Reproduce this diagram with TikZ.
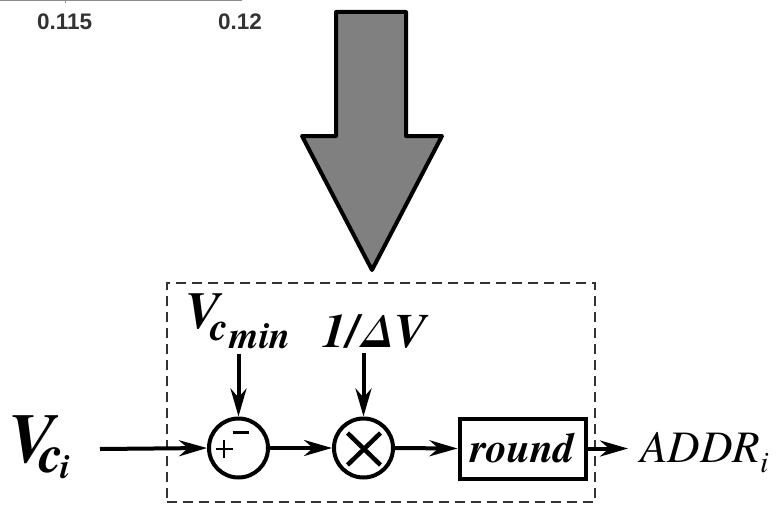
\documentclass[tikz,border=0pt]{standalone}
\usepackage{fontspec}
\usetikzlibrary{arrows.meta}
\setmainfont{texgyretermes}[Extension=.otf, UprightFont=*-regular, BoldFont=*-bold, ItalicFont=*-italic, BoldItalicFont=*-bolditalic]
\newfontfamily\arl{Liberation Sans}
\newcommand\fsz[1]{\fontsize{#1}{#1}\selectfont}
\newcommand\tnr{\rmfamily}
\begin{document}
\begin{tikzpicture}[x=1pt,y=-1pt,
  arr/.style={line width=4, -{Stealth[length=28, width=16, inset=9]}},
  blk/.style={draw, line width=4, inner sep=0},
  lbl/.style={inner xsep=0, inner ysep=5, anchor=base west},
  num/.style={inner sep=0, anchor=base west, text=black!80, font=\arl\bfseries\fsz{22.5}},
  frame/.style={draw=black!80, line width=1.5, dash pattern=on 10 off 6, inner sep=0}]
\path[use as bounding box] (0,0) rectangle (779,519);
% top remnants
\draw[black!45, line width=1.5] (0,0.6) -- (242,0.6);
\draw[black!45, line width=1] (65,0) -- (65,3);
\node[num] (n1) at (37,30) {0.115};
\node[num] (n2) at (218,30) {0.12};
% big arrow
\draw[line width=4, fill=black!50, line join=round]
  (336,12) -- (406,12) -- (406,136) -- (442,136) -- (372,270) -- (302,136) -- (336,136) -- cycle;
% frame
\node[frame, minimum width=428, minimum height=219] (fr) at (381,392.5) {};
% blocks
\node[blk, circle, minimum size=59] (sub) at (238.5,448) {};
\node[blk, circle, minimum size=59] (mul) at (363.5,448) {};
\node[blk, minimum width=126, minimum height=60] (rnd) at (522.5,448.5)
  {\tnr\bfseries\itshape\fsz{42}round};
% symbols
\draw[line width=2, shift={(sub.center)}] (-23,1) -- (-6,1) (-14.5,-8) -- (-14.5,10);
\draw[line width=3, shift={(sub.center)}] (-6,-16) -- (10,-16);
\draw[line width=4.5, shift={(mul.center)}] (-16,-15) -- (17,17) (-16,17) -- (17,-15);
% labels
\node[lbl, inner xsep=0, inner ysep=0] (vci) at (8,462)
  {\tnr\bfseries\itshape\fsz{70}V\kern-15pt\raisebox{-10pt}{\fsz{54}c\kern-3pt\raisebox{-6pt}{\fsz{35}i}}};
\node[lbl] (vcmin) at (185,328)
  {\tnr\bfseries\itshape\fsz{52}V\kern-9pt\raisebox{-12pt}{\fsz{40}c\kern1pt\raisebox{-8pt}{\fsz{38}min}}};
\node[lbl] (dv) at (322,347)
  {\tnr\bfseries\itshape\fsz{48}1/\kern2pt Δ\kern1pt V};
\node[lbl, inner xsep=12] (addr) at (628,462)
  {\tnr\itshape\fsz{45}ADDR\raisebox{-10pt}{\fsz{30}i}};
% connectors
\coordinate (vcistart) at (100,449);
\draw[arr] (vcistart) -- (sub.west);
\draw[arr] (sub.east) -- (mul.west);
\draw[arr] (mul.east) -- (rnd.west);
\draw[arr] (rnd.east) -- (rnd.east -| addr.west);
\draw[arr] (vcmin.south -| sub.north) -- (sub.north);
\draw[arr] (dv.south -| mul.north) -- (mul.north);
\end{tikzpicture}
\end{document}
